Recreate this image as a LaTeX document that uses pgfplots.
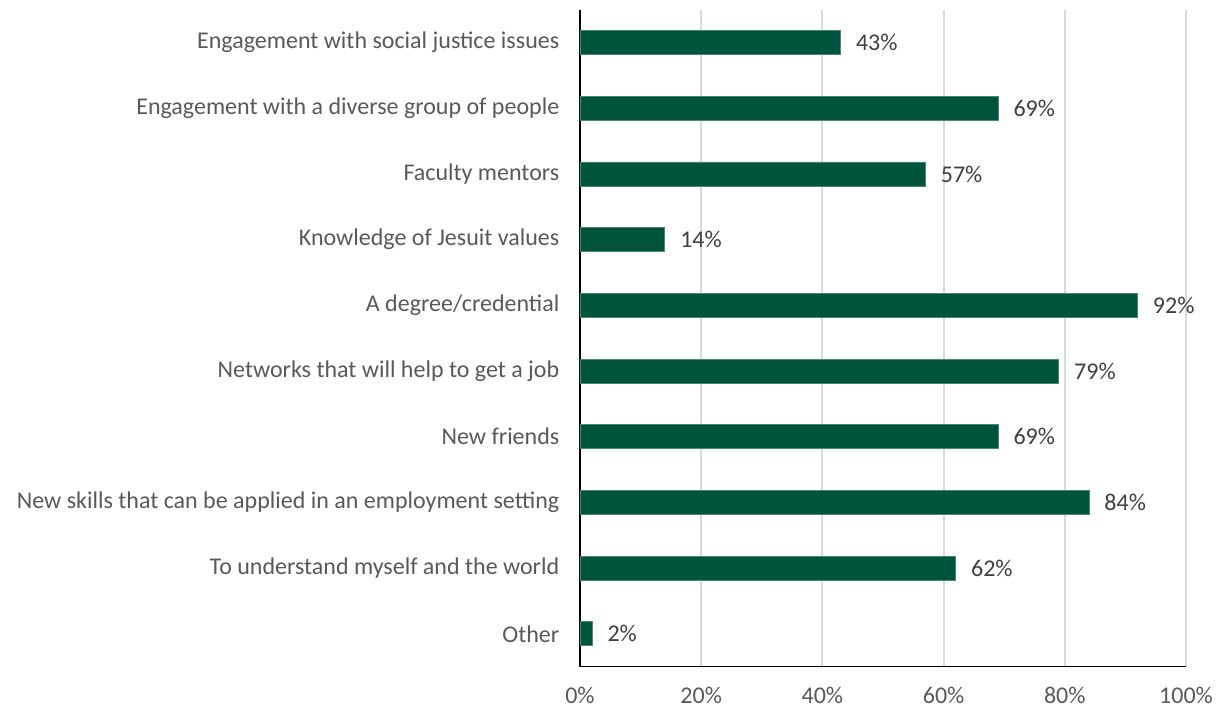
\documentclass[border=0pt]{standalone}
\usepackage{pgfplots}
\pgfplotsset{compat=1.18}
\usepackage{fontspec}
\setmainfont{Carlito}
\definecolor{bargreen}{HTML}{00533C}
\definecolor{labgray}{HTML}{595959}
\definecolor{valgray}{HTML}{404040}
\definecolor{gridgray}{HTML}{D9D9D9}
\begin{document}
\begin{tikzpicture}
\fill[white] (-435pt,-33pt) rectangle (481.5pt,500pt);
\begin{axis}[
  scale only axis,
  width=454.5pt, height=492.75pt,
  xbar, bar width=18pt,
  xmin=0, xmax=100,
  ymin=-0.5, ymax=9.5,
  y dir=reverse,
  axis x line*=bottom, axis y line*=left,
  x axis line style={black, line width=1.2pt, -},
  y axis line style={black, line width=1.2pt, -},
  xtick={0,20,40,60,80,100},
  xticklabel={\pgfmathprintnumber{\tick}\%},
  /pgf/number format/assume math mode=true,
  ytick={0,...,9},
  yticklabels={Engagement with social justice issues,Engagement with a diverse group of people,Faculty mentors,Knowledge of Jesuit values,A degree/credential,Networks that will help to get a job,New friends,New skills that can be applied in an employment setting,To understand myself and the world,Other},
  major tick length=0pt,
  xmajorgrids, grid style={gridgray, line width=1.5pt},
  ticklabel style={font=\fontsize{18}{20}\selectfont, color=labgray},
  yticklabel style={xshift=-12pt},
  xticklabel style={yshift=-12pt},
  nodes near coords={\pgfmathprintnumber{\pgfplotspointmeta}\%},
  nodes near coords style={font=\fontsize{18}{20}\selectfont, color=valgray, xshift=8pt, /pgf/number format/assume math mode=true},
  point meta=x,
]
\addplot[fill=bargreen, draw=bargreen!70!white, line width=0.5pt] coordinates {
(43,0) (69,1) (57,2) (14,3) (92,4) (79,5) (69,6) (84,7) (62,8) (2,9)};
\end{axis}
\end{tikzpicture}
\end{document}
